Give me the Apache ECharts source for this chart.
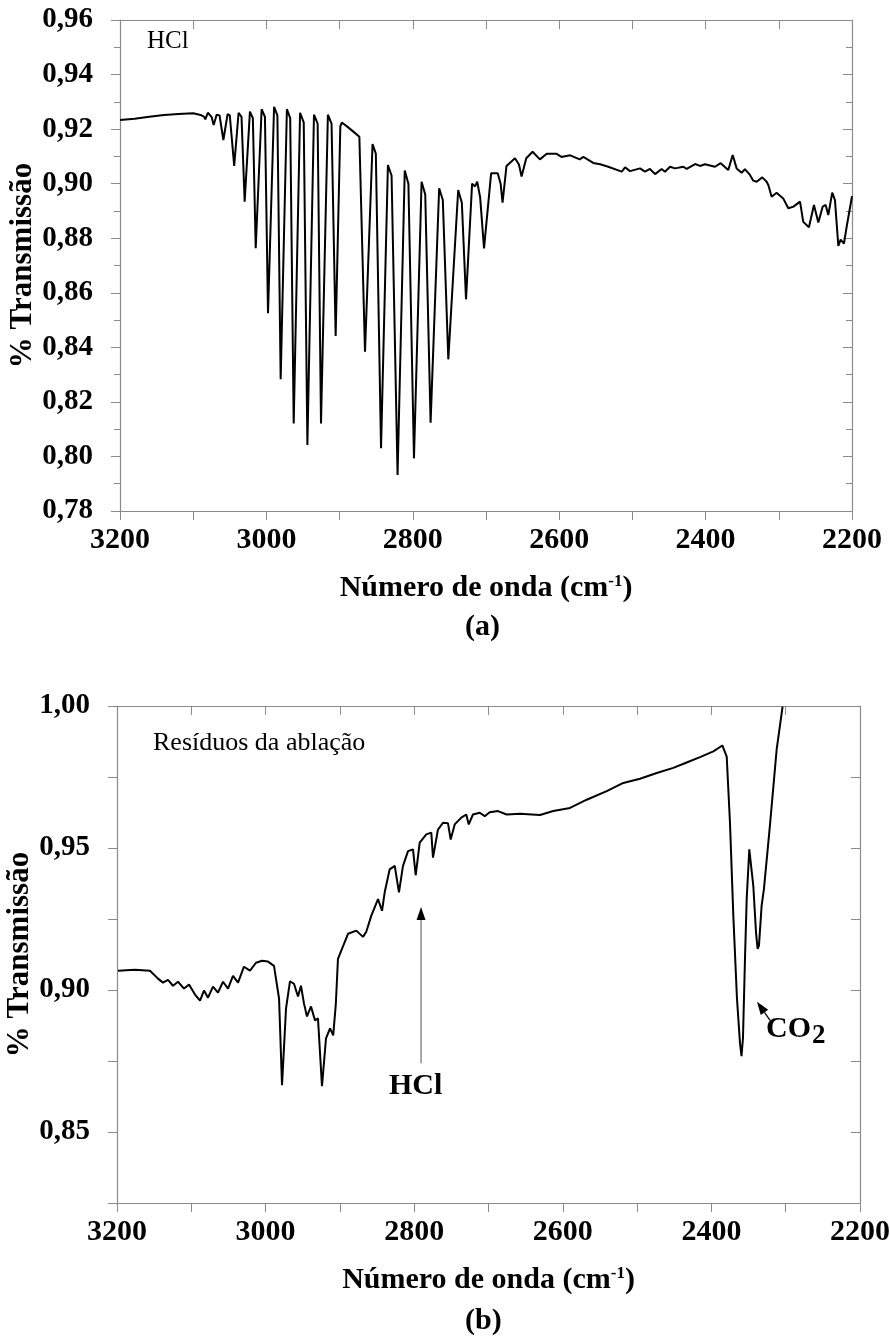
<!DOCTYPE html>
<html>
<head>
<meta charset="utf-8">
<script src="https://cdn.jsdelivr.net/npm/echarts@6/dist/echarts.min.js"></script>
<style>
    html, body { margin: 0; padding: 0; background: #fff; }
    #chart { width: 890px; height: 1336px; }
</style>
</head>
<body>
<div id="chart"></div>
<script>
// (a) espectro do HCl: [número de onda, transmissão]
var hclSpectrum = [
    [3200, 0.9233], [3180, 0.9238], [3160, 0.9245], [3140, 0.9252], [3120, 0.9255], [3100, 0.9258],
    [3090, 0.9252], [3085, 0.9245], [3083.4, 0.9236], [3080, 0.926], [3075, 0.9245], [3072, 0.9215],
    [3068, 0.9253], [3064, 0.925], [3058.8, 0.916], [3053, 0.9255], [3050, 0.925], [3044, 0.9065],
    [3038, 0.926], [3034, 0.9245], [3029.7, 0.8934], [3022.5, 0.9264], [3018.5, 0.924], [3014.6, 0.8763],
    [3006.5, 0.9273], [3002, 0.9245], [2997.8, 0.8525], [2989.5, 0.9282], [2985, 0.925], [2980.5, 0.8283],
    [2972, 0.9273], [2967.5, 0.924], [2962.7, 0.8121], [2954, 0.926], [2949, 0.9225], [2944, 0.8042],
    [2935, 0.9253], [2930, 0.922], [2925.4, 0.8121], [2916, 0.9253], [2911, 0.922], [2905.4, 0.8442],
    [2899, 0.921], [2897, 0.9224], [2890, 0.921], [2880, 0.9188], [2873, 0.9172], [2865.3, 0.8384],
    [2855, 0.9145], [2850.5, 0.911], [2843.4, 0.803], [2834, 0.9068], [2829, 0.903], [2820.8, 0.7932],
    [2811, 0.9048], [2806, 0.9], [2798.4, 0.7993], [2788, 0.9007], [2783, 0.896], [2775.7, 0.8124],
    [2764, 0.8983], [2759, 0.894], [2751.5, 0.8356], [2738, 0.8977], [2733, 0.893], [2727.3, 0.8576],
    [2719, 0.9], [2715, 0.899], [2712, 0.9007], [2708, 0.895], [2702.7, 0.8763], [2693, 0.9038],
    [2684, 0.9038], [2680, 0.9], [2677.4, 0.893], [2672, 0.9065], [2660.4, 0.9093], [2655, 0.907],
    [2651.4, 0.9026], [2645, 0.9093], [2636.3, 0.9117], [2626.4, 0.9089], [2617, 0.911], [2604, 0.911],
    [2597, 0.9098], [2585, 0.9104], [2572, 0.9089], [2567, 0.9098], [2553.5, 0.9076], [2544, 0.9071],
    [2533, 0.9062], [2514.6, 0.9044], [2510, 0.906], [2503.3, 0.9046], [2489.6, 0.9056], [2482.8, 0.9044],
    [2476, 0.9054], [2469, 0.9035], [2460, 0.9054], [2455.5, 0.9044], [2448.6, 0.9062], [2441.8, 0.9056],
    [2430.4, 0.9062], [2425.8, 0.9054], [2414.4, 0.9072], [2407.7, 0.9065], [2400.8, 0.9071], [2387.2, 0.9062],
    [2379.4, 0.9075], [2369, 0.905], [2363, 0.9105], [2357.6, 0.9056], [2350.8, 0.904], [2346.3, 0.9053],
    [2339.4, 0.9032], [2334.9, 0.9011], [2330.3, 0.9007], [2322.6, 0.9023], [2316.6, 0.9007], [2314.3, 0.8995],
    [2309.8, 0.8952], [2303, 0.8967], [2294, 0.8946], [2287, 0.891], [2280, 0.8916], [2271, 0.8934],
    [2266.6, 0.886], [2258.8, 0.884], [2252, 0.8922], [2246, 0.8858], [2240, 0.8916], [2236, 0.8922],
    [2232.4, 0.8885], [2227, 0.8967], [2223.3, 0.894], [2218.7, 0.8772], [2215.5, 0.8795], [2211, 0.878],
    [2207.3, 0.8842], [2200, 0.8954]
];

// (b) resíduos da ablação
var residueSpectrum = [
    [3198.7, 0.9068], [3175.8, 0.9071], [3155.6, 0.9068], [3144.8, 0.904], [3138.1, 0.9026], [3131.4, 0.9036],
    [3124.6, 0.9015], [3117.9, 0.9029], [3109.8, 0.9005], [3103.1, 0.9019], [3095, 0.8984], [3088.3, 0.8963],
    [3082.9, 0.8998], [3077.5, 0.8973], [3070.8, 0.9012], [3064.1, 0.8991], [3057.3, 0.9029], [3050.6, 0.9005],
    [3043.9, 0.905], [3037.1, 0.9026], [3029.1, 0.9082], [3021, 0.9068], [3012.9, 0.9096], [3004.8, 0.9103],
    [2996.8, 0.91], [2988.7, 0.9085], [2981.9, 0.897], [2977.9, 0.8665], [2972.5, 0.8935], [2967.2, 0.903],
    [2961.8, 0.9022], [2956.4, 0.8977], [2952.4, 0.9015], [2948.3, 0.8952], [2944.3, 0.8907], [2938.9, 0.8942],
    [2933.5, 0.8893], [2929.5, 0.89], [2924.1, 0.8661], [2918.7, 0.883], [2913.3, 0.8865], [2909, 0.884],
    [2905.5, 0.895], [2902.6, 0.911], [2889.1, 0.9198], [2877.9, 0.9209], [2868.9, 0.9187], [2864.5, 0.9205],
    [2857.7, 0.9262], [2848.7, 0.932], [2843.3, 0.9279], [2839.7, 0.9344], [2833, 0.9425], [2826.2, 0.9437],
    [2820.5, 0.9344], [2815.1, 0.9437], [2808.3, 0.9489], [2801.6, 0.9495], [2798, 0.9404], [2792.6, 0.9519],
    [2783.7, 0.9548], [2777, 0.9554], [2774.7, 0.9466], [2768, 0.9565], [2761.2, 0.9589], [2754.5, 0.9587],
    [2750.9, 0.953], [2745.5, 0.9583], [2736.6, 0.9607], [2729.9, 0.9618], [2726.6, 0.9583], [2720.9, 0.9618],
    [2711.8, 0.9624], [2705.1, 0.9612], [2698.4, 0.9626], [2687.2, 0.963], [2675.6, 0.9618], [2657.6, 0.9621],
    [2630.7, 0.9616], [2612.8, 0.963], [2590.3, 0.9641], [2567.8, 0.967], [2540.9, 0.97], [2518.6, 0.9729],
    [2496.1, 0.9744], [2473.6, 0.9764], [2451.3, 0.9782], [2433.3, 0.9801], [2415.3, 0.982], [2397.4, 0.984],
    [2385.3, 0.9861], [2379.4, 0.9822], [2375, 0.9589], [2370.5, 0.9262], [2365.6, 0.897], [2361.5, 0.8812],
    [2359.5, 0.8767], [2357.5, 0.883], [2354.8, 0.911], [2352.5, 0.932], [2349, 0.9495], [2343.6, 0.9367],
    [2340, 0.9204], [2337.8, 0.9145], [2336, 0.9156], [2332.4, 0.9297], [2329.3, 0.9355], [2321.3, 0.9577],
    [2312.2, 0.9846], [2304.2, 0.9998]
];

var serif = '"Liberation Serif", "Times New Roman", serif';
var frameColor = '#8a8a8a';

function commaLabel(v) {
    return v.toFixed(2).replace('.', ',');
}

// eixo x de baixo (com rótulos) e espelho em cima
function xAxes(g) {
    var base = {
        gridIndex: g, type: 'value', inverse: true,
        min: 2200, max: 3200, interval: 200,
        splitLine: { show: false },
        axisLine: { lineStyle: { color: frameColor, width: 1.2 } },
        minorTick: { show: true, splitNumber: 2, length: 9, lineStyle: { color: frameColor } }
    };
    var bottom = echarts.util.merge({
        position: 'bottom',
        axisTick: { length: 9, lineStyle: { color: frameColor } },
        axisLabel: {
            color: '#000', fontFamily: serif, fontWeight: 'bold', fontSize: 30, margin: 14,
            formatter: function (v) { return String(v); }
        },
        name: '{t|Número de onda (cm}{s|-1}{t|)}',
        nameLocation: 'middle',
        nameGap: 62,
        nameMoveOverlap: false,
        nameTextStyle: {
            rich: {
                t: { fontFamily: serif, fontWeight: 'bold', fontSize: 30, color: '#000', verticalAlign: 'bottom' },
                s: { fontFamily: serif, fontWeight: 'bold', fontSize: 17, color: '#000', verticalAlign: 'top' }
            }
        }
    }, base, true);
    var top = echarts.util.merge({
        position: 'top',
        axisTick: { inside: true, length: 9, lineStyle: { color: frameColor } },
        axisLabel: { show: false }
    }, base, true);
    return [bottom, top];
}

function yAxes(g, min, max, interval, minor, fmt) {
    var base = {
        gridIndex: g, type: 'value', min: min, max: max, interval: interval,
        splitLine: { show: false },
        axisLine: { show: true, lineStyle: { color: frameColor, width: 1.2 } },
        minorTick: { show: minor, splitNumber: 2, length: 6, lineStyle: { color: frameColor } }
    };
    var left = echarts.util.merge({
        position: 'left',
        axisTick: { length: 9, lineStyle: { color: frameColor } },
        axisLabel: { color: '#000', fontFamily: serif, fontWeight: 'bold', fontSize: 29, margin: 27, formatter: fmt },
        name: '% Transmissão',
        nameLocation: 'middle',
        nameGap: 82,
        nameMoveOverlap: false,
        nameTextStyle: { fontFamily: serif, fontWeight: 'bold', fontSize: 31, color: '#000' }
    }, base, true);
    var right = echarts.util.merge({
        position: 'right',
        axisTick: { inside: true, length: 9, lineStyle: { color: frameColor } },
        axisLabel: { show: false }
    }, base, true);
    return [left, right];
}

var chart = echarts.init(document.getElementById('chart'));

var option = {
    animation: false,
    backgroundColor: '#fff',
    grid: [
        { left: 120, top: 20, width: 732, height: 491, outerBoundsMode: 'none' },
        { left: 117, top: 706, width: 743, height: 497, outerBoundsMode: 'none' }
    ],
    xAxis: xAxes(0).concat(xAxes(1)),
    yAxis: yAxes(0, 0.78, 0.96, 0.02, true, commaLabel).concat(
        yAxes(1, 0.825, 1.0, 0.025, false, function (v) {
            return Math.round(v * 1000) % 50 === 0 ? commaLabel(v) : '';
        })
    ),
    series: [
        {
            name: 'HCl', type: 'line', xAxisIndex: 0, yAxisIndex: 0,
            showSymbol: false, lineStyle: { color: '#000', width: 2 },
            data: hclSpectrum
        },
        {
            name: 'Resíduos', type: 'line', xAxisIndex: 2, yAxisIndex: 2,
            showSymbol: false, lineStyle: { color: '#000', width: 2 },
            data: residueSpectrum
        }
    ]
};
chart.setOption(option);

// setas e rótulos (posição das setas a partir de coordenadas de dados)
function px(g, p) {
    return chart.convertToPixel({ gridIndex: g }, p);
}
function arrow(g, from, to, color) {
    var a = px(g, from), b = px(g, to);
    var ang = Math.atan2(b[1] - a[1], b[0] - a[0]);
    var L = 13, W = 4.5;
    var bx = b[0] - L * Math.cos(ang), by = b[1] - L * Math.sin(ang);
    var nx = -Math.sin(ang) * W, ny = Math.cos(ang) * W;
    return [
        { type: 'line', shape: { x1: a[0], y1: a[1], x2: bx, y2: by }, style: { stroke: color, lineWidth: 1.3 } },
        { type: 'polygon', shape: { points: [[b[0], b[1]], [bx + nx, by + ny], [bx - nx, by - ny]] }, style: { fill: '#000' } }
    ];
}

var textStyle = function (txt, size, bold) {
    return { text: txt, font: (bold ? 'bold ' : '') + size + 'px ' + serif, fill: '#000' };
};

var graphics = [
    { type: 'text', left: 147, top: 29, style: textStyle('HCl', 25, false) },
    { type: 'text', left: 153, top: 730, style: textStyle('Resíduos da ablação', 26, false) },
    { type: 'text', left: 465, top: 612, style: textStyle('(a)', 30, true) },
    { type: 'text', left: 465, top: 1306, style: textStyle('(b)', 30, true) },
    { type: 'text', left: 389, top: 1071, style: textStyle('HCl', 30, true) },
    { type: 'text', left: 766, top: 1014, style: textStyle('CO', 30, true) },
    { type: 'text', left: 812, top: 1023, style: textStyle('2', 27, true) }
];
graphics = graphics.concat(arrow(1, [2790.8, 0.8742], [2790.8, 0.9292], '#777'));
graphics = graphics.concat(arrow(1, [2321, 0.8893], [2338.6, 0.8959], '#000'));

chart.setOption({ graphic: graphics });
</script>
</body>
</html>
